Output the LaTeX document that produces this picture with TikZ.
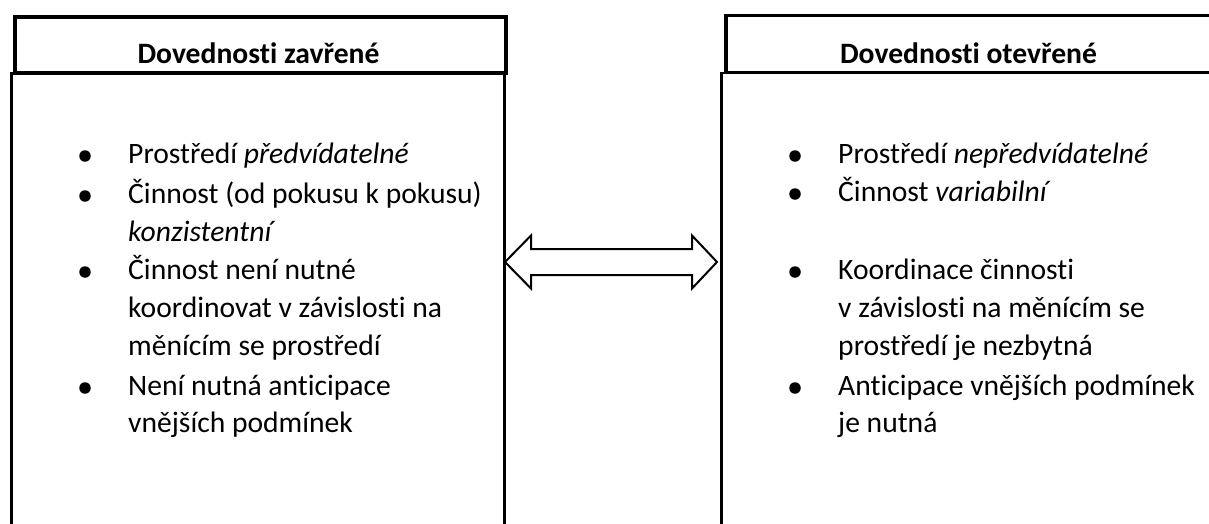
\documentclass[tikz,border=0pt]{standalone}
\usepackage{fontspec}
\setmainfont{Carlito}[Ligatures={NoCommon,NoContextual}]
\begin{document}
\begin{tikzpicture}[x=1pt,y=-1pt,
  headbox/.style={draw, line width=3.5pt, inner sep=0pt, anchor=north west},
  bodybox/.style={draw, line width=2.5pt, inner sep=0pt, anchor=north west},
  txt/.style={inner sep=0pt, anchor=base west, font=\fontsize{29.6}{36}\selectfont},
  htxt/.style={inner sep=0pt, anchor=base, font=\bfseries\fontsize{29.6}{36}\selectfont},
  dot/.style={circle, fill, inner sep=0pt, minimum size=11.5pt},
  arrowshape/.style={draw, line width=2pt, fill=white, line join=miter}]
\useasboundingbox (0,0) rectangle (1209,523);
\clip (0,0) rectangle (1209,523);
% boxes
\node[bodybox, minimum width=493pt, minimum height=470pt] (lbody) at (10,71.5) {};
\node[bodybox, minimum width=520pt, minimum height=470pt] (rbody) at (720,71.5) {};
\node[headbox, minimum width=491pt, minimum height=56pt] (lhead) at (13,15) {};
\node[headbox, minimum width=489pt, minimum height=57pt] (rhead) at (724,13.5) {};
% headers
\node[htxt] (lht) at (258.5,63) {Dovednosti zavřené};
\node[htxt] (rht) at (968.5,63) {Dovednosti otevřené};
% double arrow
\draw[arrowshape] (505,262) -- (531,235.5) -- (531,249) -- (692,249) -- (692,235.5)
  -- (717,262) -- (692,288.5) -- (692,275) -- (531,275) -- (531,288.5) -- cycle;
% left list
\node[dot] (lb1) at (85,156) {};
\node[dot] (lb2) at (85,196) {};
\node[dot] (lb3) at (85,272) {};
\node[dot] (lb4) at (85,388) {};
\node[txt] (l1) at (128,163.5) {Prostředí \textit{předvídatelné}};
\node[txt] (l2) at (128,203.5) {Činnost (od pokusu k pokusu)};
\node[txt] (l3) at (128,241.5) {\textit{konzistentní}};
\node[txt] (l4) at (128,279.5) {Činnost není nutné};
\node[txt] (l5) at (128,317.5) {koordinovat v závislosti na};
\node[txt] (l6) at (128,355.5) {měnícím se prostředí};
\node[txt] (l7) at (128,395.5) {Není nutná anticipace};
\node[txt] (l8) at (128,432.5) {vnějších podmínek};
% right list
\node[dot] (rb1) at (795,156) {};
\node[dot] (rb2) at (795,194) {};
\node[dot] (rb3) at (795,272) {};
\node[dot] (rb4) at (795,388) {};
\node[txt] (r1) at (838,163.5) {Prostředí \textit{nepředvídatelné}};
\node[txt] (r2) at (838,201.5) {Činnost \textit{variabilní}};
\node[txt] (r4) at (838,279.5) {Koordinace činnosti};
\node[txt] (r5) at (838,317.5) {v závislosti na měnícím se};
\node[txt] (r6) at (838,355.5) {prostředí je nezbytná};
\node[txt] (r7) at (838,395.5) {Anticipace vnějších podmínek};
\node[txt] (r8) at (838,432.5) {je nutná};
\end{tikzpicture}
\end{document}
